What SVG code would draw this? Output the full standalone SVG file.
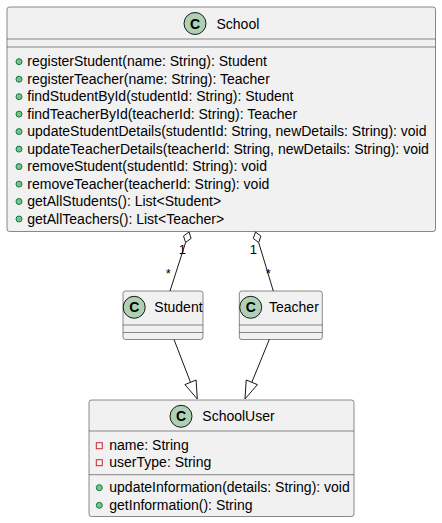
<svg xmlns="http://www.w3.org/2000/svg" width="442" height="523" viewBox="0 0 442 523">
  <style>
    .box { fill: #F1F1F1; stroke: #181818; stroke-width: 0.5; }
    .sep { stroke: #181818; stroke-width: 0.5; }
    .spot { fill: #ADD1B2; stroke: #181818; stroke-width: 1; }
    .spotc { font-family: "Liberation Sans", Arial, sans-serif; font-size: 14px; font-weight: bold; fill: #000; text-anchor: middle; }
    .name { font-family: "Liberation Sans", Arial, sans-serif; font-size: 14px; fill: #000; }
    .mem { font-family: "Liberation Sans", Arial, sans-serif; font-size: 14px; fill: #000; }
    .pub { fill: #84BE84; stroke: #038048; stroke-width: 1; }
    .priv { fill: none; stroke: #C82930; stroke-width: 1; }
    .edge { stroke: #181818; stroke-width: 1; fill: none; }
    .head { stroke: #181818; stroke-width: 1; fill: #FFFFFF; }
    .card { font-family: "Liberation Sans", Arial, sans-serif; font-size: 13px; fill: #000; text-anchor: middle; }
  </style>

  <!-- School -->
  <g id="School">
    <rect class="box" x="7" y="7" width="428.5" height="224.5" rx="2.5"/>
    <circle class="spot" cx="195" cy="23.5" r="11"/>
    <text class="spotc" x="195" y="28.5">C</text>
    <text class="name" x="216.5" y="28.5">School</text>
    <line class="sep" x1="7" y1="39" x2="435.5" y2="39"/>
    <line class="sep" x1="7" y1="47" x2="435.5" y2="47"/>
    <circle class="pub" cx="19" cy="61.7" r="3"/>
    <text class="mem" x="27.3" y="66.3">registerStudent(name: String): Student</text>
    <circle class="pub" cx="19" cy="79.2" r="3"/>
    <text class="mem" x="27.3" y="83.8">registerTeacher(name: String): Teacher</text>
    <circle class="pub" cx="19" cy="96.7" r="3"/>
    <text class="mem" x="27.3" y="101.3">findStudentById(studentId: String): Student</text>
    <circle class="pub" cx="19" cy="114.1" r="3"/>
    <text class="mem" x="27.3" y="118.7">findTeacherById(teacherId: String): Teacher</text>
    <circle class="pub" cx="19" cy="131.6" r="3"/>
    <text class="mem" x="27.3" y="136.2">updateStudentDetails(studentId: String, newDetails: String): void</text>
    <circle class="pub" cx="19" cy="149.1" r="3"/>
    <text class="mem" x="27.3" y="153.7">updateTeacherDetails(teacherId: String, newDetails: String): void</text>
    <circle class="pub" cx="19" cy="166.6" r="3"/>
    <text class="mem" x="27.3" y="171.2">removeStudent(studentId: String): void</text>
    <circle class="pub" cx="19" cy="184.1" r="3"/>
    <text class="mem" x="27.3" y="188.7">removeTeacher(teacherId: String): void</text>
    <circle class="pub" cx="19" cy="201.5" r="3"/>
    <text class="mem" x="27.3" y="206.1">getAllStudents(): List&lt;Student&gt;</text>
    <circle class="pub" cx="19" cy="219" r="3"/>
    <text class="mem" x="27.3" y="223.6">getAllTeachers(): List&lt;Teacher&gt;</text>
  </g>

  <!-- Student -->
  <g id="Student">
    <rect class="box" x="123" y="291" width="80" height="48.5" rx="2.5"/>
    <circle class="spot" cx="134.2" cy="307.3" r="11"/>
    <text class="spotc" x="134.2" y="312.3">C</text>
    <text class="name" x="154.3" y="312.3">Student</text>
    <line class="sep" x1="123" y1="325" x2="203" y2="325"/>
    <line class="sep" x1="123" y1="332.5" x2="203" y2="332.5"/>
  </g>

  <!-- Teacher -->
  <g id="Teacher">
    <rect class="box" x="239.3" y="291" width="83" height="48.5" rx="2.5"/>
    <circle class="spot" cx="250.7" cy="307.3" r="11"/>
    <text class="spotc" x="250.7" y="312.3">C</text>
    <text class="name" x="269" y="312.3">Teacher</text>
    <line class="sep" x1="239.3" y1="325" x2="322.3" y2="325"/>
    <line class="sep" x1="239.3" y1="332.5" x2="322.3" y2="332.5"/>
  </g>

  <!-- SchoolUser -->
  <g id="SchoolUser">
    <rect class="box" x="89" y="400" width="265" height="116.5" rx="2.5"/>
    <circle class="spot" cx="181" cy="416.3" r="11"/>
    <text class="spotc" x="181" y="421.3">C</text>
    <text class="name" x="202.3" y="421.3">SchoolUser</text>
    <line class="sep" x1="89" y1="431" x2="354" y2="431"/>
    <rect class="priv" x="96.3" y="442.7" width="6" height="6"/>
    <text class="mem" x="109.3" y="450.3">name: String</text>
    <rect class="priv" x="96.3" y="459.7" width="6" height="6"/>
    <text class="mem" x="109.3" y="467.3">userType: String</text>
    <line class="sep" x1="89" y1="474.7" x2="354" y2="474.7"/>
    <circle class="pub" cx="99.3" cy="487.7" r="3"/>
    <text class="mem" x="109.3" y="492.3">updateInformation(details: String): void</text>
    <circle class="pub" cx="99.3" cy="505.3" r="3"/>
    <text class="mem" x="109.3" y="509.9">getInformation(): String</text>
  </g>

  <!-- connectors -->
  <g id="connectors">
    <!-- aggregation: School holds Students -->
    <line class="edge" x1="170" y1="291" x2="185.6" y2="242.5"/>
    <polygon class="head" points="189,232 191.1,238.4 185.6,242.5 183.5,236"/>
    <text class="card" x="182.3" y="254">1</text>
    <text class="card" x="168.3" y="278">*</text>

    <!-- aggregation: School holds Teachers -->
    <line class="edge" x1="273.3" y1="291" x2="258.7" y2="242.5"/>
    <polygon class="head" points="255.5,232 260.9,236.1 258.7,242.5 253.3,238.5"/>
    <text class="card" x="253.3" y="254">1</text>
    <text class="card" x="268.3" y="277.5">*</text>

    <!-- generalization: Student extends SchoolUser -->
    <line class="edge" x1="174" y1="339.5" x2="190.5" y2="382.3"/>
    <polygon class="head" points="197.3,399 196.1,380 184.9,384.6"/>

    <!-- generalization: Teacher extends SchoolUser -->
    <line class="edge" x1="269.3" y1="339.5" x2="251.8" y2="382.3"/>
    <polygon class="head" points="245,399 257.4,384.6 246.2,380"/>
  </g>
</svg>
